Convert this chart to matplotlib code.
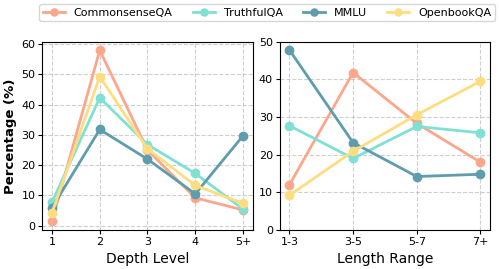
import matplotlib
matplotlib.use("Agg")
import matplotlib.pyplot as plt

# Data
depth_levels = ["1", "2", "3", "4", "5+"]
length_ranges = ["1-3", "3-5", "5-7", "7+"]
datasets = ["CommonsenseQA", "TruthfulQA", "MMLU", "OpenbookQA"]
colors = ["#FCA68C", "#80E0D3", "#5F9DAD", "#FEDD80"]

depth_commonsense = [1.4, 58.0, 25.0, 9.2, 5.2]
depth_truthful = [7.7, 42.3, 26.8, 17.3, 5.5]
depth_mmlu = [5.9, 31.8, 22.0, 10.5, 29.7]
depth_openbook = [4.2, 49.3, 25.4, 13.3, 7.4]

length_commonsense = [12.0, 41.8, 28.3, 18.0]
length_truthful = [27.7, 19.0, 27.5, 25.8]
length_mmlu = [47.8, 23.2, 14.2, 14.8]
length_openbook = [9.2, 20.9, 30.6, 39.5]

depth_series = [depth_commonsense, depth_truthful, depth_mmlu, depth_openbook]
length_series = [length_commonsense, length_truthful, length_mmlu, length_openbook]

fig, (ax1, ax2) = plt.subplots(1, 2, figsize=(4.99, 2.69), dpi=100)

for nome, cor, dados in zip(datasets, colors, depth_series):
    ax1.plot(depth_levels, dados, marker='o', color=cor, lw=2, ms=6, label=nome)
for nome, cor, dados in zip(datasets, colors, length_series):
    ax2.plot(length_ranges, dados, marker='o', color=cor, lw=2, ms=6)

ax1.set_xlabel('Depth Level', fontsize=10)
ax1.set_ylabel('Percentage (%)', fontsize=9.5, fontweight='bold', labelpad=3)
ax1.set_yticks([0, 10, 20, 30, 40, 50, 60])
ax2.set_xlabel('Length Range', fontsize=10)
ax2.set_ylim(0, 50)
ax2.set_yticks([0, 10, 20, 30, 40, 50])

for ax in (ax1, ax2):
    ax.grid(True, ls='--', alpha=0.6)
    ax.tick_params(labelsize=8, length=3, pad=2)

fig.legend(loc='upper center', ncol=4, fontsize=8, bbox_to_anchor=(0.535, 1.005),
           handlelength=2, columnspacing=1.8, handletextpad=0.8, borderpad=0.3,
           markerscale=0.85)
fig.subplots_adjust(left=0.085, right=0.982, bottom=0.145, top=0.845, wspace=0.13)

plt.savefig('out.png', dpi=100)
